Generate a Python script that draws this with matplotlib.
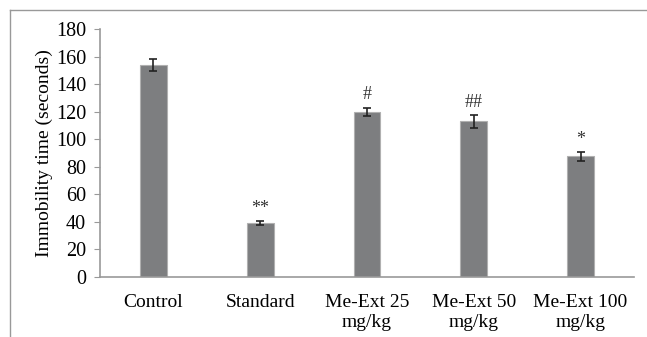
import matplotlib.pyplot as plt
import numpy as np
from matplotlib.lines import Line2D

plt.rcParams['font.family'] = ['Liberation Serif', 'DejaVu Serif']

groups = ['Control', 'Standard', 'Me-Ext 25\nmg/kg', 'Me-Ext 50\nmg/kg', 'Me-Ext 100\nmg/kg']
means = [154, 39, 120, 113, 87.5]
errors = [4.5, 1.5, 3.0, 4.5, 3.2]
marks = ['', '**', '#', '##', '*']

fig = plt.figure(figsize=(6.47, 3.37), dpi=100)
ax = fig.add_axes([100/647, 60/337, 534/647, 248/337])

x = np.arange(len(groups))
ax.bar(x, means, width=0.25, color='#7d7e80', edgecolor='#b0b0b0', linewidth=0.8,
       yerr=errors, capsize=3, error_kw=dict(ecolor='#222222', elinewidth=1.2, capthick=1.2))

for xi, m, e, s in zip(x, means, errors, marks):
    if s:
        ax.text(xi, m + e + 3, s, ha='center', va='bottom', fontsize=13, color='#333333')

ax.set_xlim(-0.5, len(groups) - 0.5)
ax.set_ylim(0, 180)
ax.set_yticks(np.arange(0, 181, 20))
ax.set_xticks(x)
ax.set_xticklabels(groups, fontsize=14, linespacing=1.25)
ax.tick_params(axis='y', labelsize=14.5, length=4, color='#999999', pad=6)
ax.tick_params(axis='x', length=0, pad=12)
ax.set_ylabel('Immobility time (seconds)', fontsize=14, labelpad=2)

for side in ['top', 'right']:
    ax.spines[side].set_visible(False)
for side in ['left', 'bottom']:
    ax.spines[side].set_color('#999999')
    ax.spines[side].set_linewidth(1.2)

# outer frame (partially cropped)
fig.add_artist(Line2D([10/647, 1], [1 - 10/337, 1 - 10/337], transform=fig.transFigure, color='#999999', lw=1))
fig.add_artist(Line2D([10/647, 10/647], [0, 1 - 10/337], transform=fig.transFigure, color='#999999', lw=1))

fig.savefig('out.png', dpi=100)
